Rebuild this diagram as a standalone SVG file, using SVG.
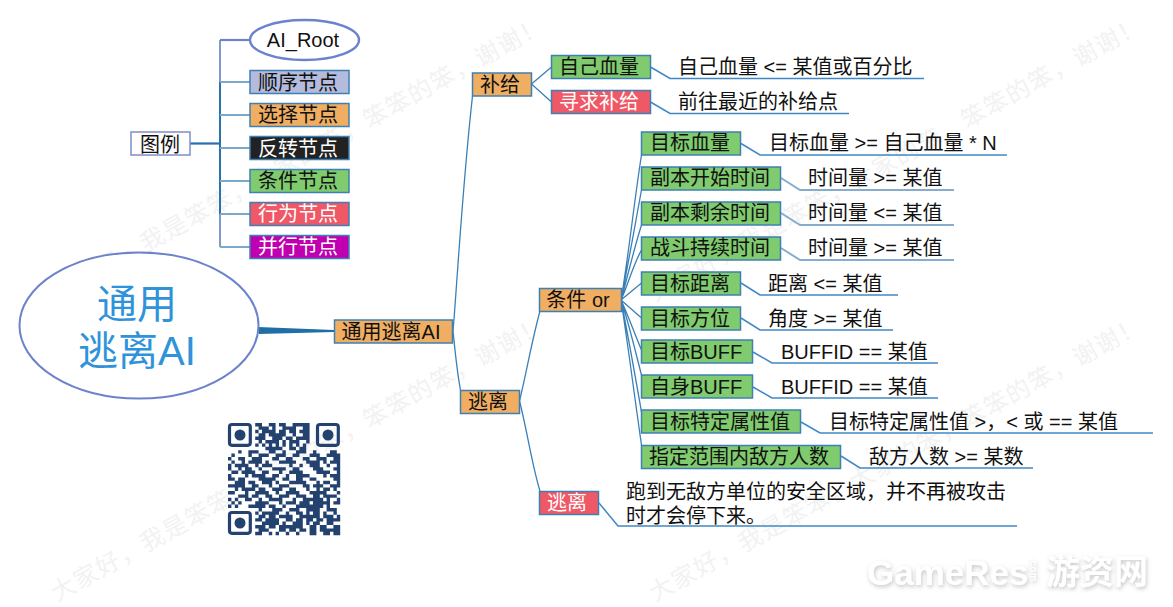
<svg xmlns="http://www.w3.org/2000/svg" width="1173" height="607" viewBox="0 0 1173 607">
<style>
text{font-family:"Liberation Sans","Noto Sans CJK SC",sans-serif;font-size:20px;fill:#111}
.c{text-anchor:middle}
.w{fill:#fff}
.wm{font-family:"Noto Sans CJK SC",sans-serif;font-size:24px;letter-spacing:1.5px;fill:#f2f2f2}
rect.n{stroke:#3f80b4;stroke-width:1.5}
.o{fill:#f0ae62}.g{fill:#7fcb6e}.r{fill:#ef5866}
.l{fill:none;stroke:#3a80b8;stroke-width:1.3}
.u{fill:none;stroke:#3f88c5;stroke-width:1.5}
.uf{fill:none;stroke:#86adcd;stroke-width:2}
.s{fill:none;stroke:#7aaacb;stroke-width:2}
.e{fill:#fff;stroke:#6d82cc;stroke-width:2.4}
</style>
<defs>
<filter id="sh" x="-5%" y="-20%" width="110%" height="150%"><feDropShadow dx="1" dy="2" stdDeviation="2" flood-color="#999" flood-opacity=".55"/></filter>
</defs>
<rect width="1173" height="607" fill="#fff"/>
<g id="watermark">
<text class="wm" transform="translate(53 295) rotate(-29)" y="8">大家好，我是笨笨，大家的笨，笨笨的笨，谢谢！</text>
<text class="wm" transform="translate(651 295) rotate(-29)" y="8">大家好，我是笨笨，大家的笨，笨笨的笨，谢谢！</text>
<text class="wm" transform="translate(53 595) rotate(-29)" y="8">大家好，我是笨笨，大家的笨，笨笨的笨，谢谢！</text>
<text class="wm" transform="translate(651 595) rotate(-29)" y="8">大家好，我是笨笨，大家的笨，笨笨的笨，谢谢！</text>
<g filter="url(#sh)">
<text x="867" y="585" style="font-size:35px;font-weight:bold;fill:#fff">GameRes</text>
<text transform="translate(1030 558) rotate(90)" style="font-size:10px;font-weight:bold;fill:#fff">.com</text>
<text x="1046" y="584" style="font-family:'Noto Sans CJK SC',sans-serif;font-size:34px;font-weight:bold;fill:#fff">游资网</text>
</g>
</g>
<g id="connectors">
<path d="M220 40V247" fill="none" stroke="#7d9ccd" stroke-width="2"/>
<path d="M220 82V214" fill="none" stroke="#2a72ab" stroke-width="2"/>
<path d="M220 40H250" fill="none" stroke="#6d82cc" stroke-width="2.2"/>
<path class="s" d="M220 82H250M220 115H250M220 148H250M220 181H250M220 214H250M220 247H250"/>
<path d="M190 143.5H220" fill="none" stroke="#2a6fb0" stroke-width="2.2"/>
<path d="M258 327L259 334L334 332V330Z" fill="#1f6ea6"/>
<path class="l" d="M453 331C456 300 462 190 472.5 96M453 331C455 350 457 372 460.5 390"/>
<path class="l" d="M531.5 84L551.5 67M531.5 84L551.5 102"/>
<path class="l" d="M519.5 401C527 370 532 340 540 311M519.5 401C527 430 532 465 540 491"/>
<path class="l" d="M621 300C628 260 635 195 641.5 155M621 300C628 265 635 225 641.5 190M621 300C628 275 635 245 641.5 225M621 300C628 285 633 265 641.5 250M621 300L641.5 283M621 300L641.5 318M621 300C628 315 635 335 641.5 350M621 300C628 320 635 350 641.5 375M621 300C628 335 635 375 641.5 412M621 300C628 345 635 400 641.5 445"/>
<path class="u" d="M650.5 67L670 78.5H924M650.5 102L670 113.5H849M741 143.5L760 155H1007"/>
<path class="uf" d="M781 178L800 190H954M781 213L800 225H954M781 248L800 260H954"/>
<path class="u" d="M741 283L760 295H898M741 318L760 330H893M753 352L772 363H938M753 387L772 398H938M801 422L820 433H1153M841 456L860 468H1033M599 503L618 526H1017"/>
</g>
<g id="legend-title"><rect x="131" y="132" width="59" height="23" fill="#fff" stroke="#7f8fc8" stroke-width="1.5"/><text class="c" x="160" y="152">图例</text></g>
<g id="legend-root"><ellipse class="e" cx="304.500" cy="40" rx="54.500" ry="20"/><text class="c" x="303" y="47">AI_Root</text></g>
<g id="legend-seq"><rect class="n" x="250" y="70.500" width="99" height="23" fill="#b4bbdc"/><text class="c" x="298" y="90">顺序节点</text></g>
<g id="legend-sel"><rect class="n o" x="250" y="103.500" width="99" height="23"/><text class="c" x="298" y="122">选择节点</text></g>
<g id="legend-inv"><rect class="n" x="250" y="136.500" width="99" height="23" fill="#222"/><text class="c w" x="298" y="156">反转节点</text></g>
<g id="legend-cond"><rect class="n g" x="250" y="169.500" width="99" height="23"/><text class="c" x="298" y="188">条件节点</text></g>
<g id="legend-act"><rect class="n r" x="250" y="202.500" width="99" height="23"/><text class="c w" x="298" y="221">行为节点</text></g>
<g id="legend-par"><rect class="n" x="250" y="235.500" width="99" height="23" fill="#c000b0"/><text class="c w" x="298" y="254">并行节点</text></g>
<g id="root"><ellipse cx="139" cy="325.500" rx="119.500" ry="73" fill="#fff" stroke="#6d82cc" stroke-width="2"/><text class="c" x="137" y="318" style="font-size:40px;fill:#2f93d9">通用</text><text class="c" x="137" y="365" style="font-size:40px;fill:#2f93d9">逃离AI</text></g>
<g id="main"><rect class="n o" x="334.500" y="320" width="118" height="23"/><text class="c" x="391" y="339">通用逃离AI</text></g>
<g id="supply"><rect class="n o" x="472.500" y="73" width="59" height="23"/><text class="c" x="500" y="92">补给</text></g>
<g id="flee"><rect class="n o" x="460.500" y="390.500" width="59" height="23"/><text class="c" x="488" y="409">逃离</text></g>
<g id="self-hp"><rect class="n g" x="551.500" y="55.500" width="99" height="23"/><text class="c" x="599" y="74">自己血量</text><text x="678" y="74">自己血量 &lt;= 某值或百分比</text></g>
<g id="seek"><rect class="n r" x="551.500" y="90.500" width="99" height="23"/><text class="c w" x="599" y="109">寻求补给</text><text x="678" y="109">前往最近的补给点</text></g>
<g id="cond-or"><rect class="n o" x="539.500" y="288.500" width="82" height="23"/><text class="c" x="578" y="307">条件 or</text></g>
<g id="flee-act"><rect class="n r" x="539.500" y="491.500" width="59" height="23"/><text class="c w" x="567" y="510">逃离</text><text x="626" y="499">跑到无敌方单位的安全区域，并不再被攻击</text><text x="626" y="523">时才会停下来。</text></g>
<g id="c1"><rect class="n g" x="641.500" y="132" width="99" height="23"/><text class="c" x="690" y="150">目标血量</text><text x="769" y="150">目标血量 &gt;= 自己血量 * N</text></g>
<g id="c2"><rect class="n g" x="641.500" y="167" width="139" height="23"/><text class="c" x="710" y="185">副本开始时间</text><text x="808" y="185">时间量 &gt;= 某值</text></g>
<g id="c3"><rect class="n g" x="641.500" y="202" width="139" height="23"/><text class="c" x="710" y="220">副本剩余时间</text><text x="808" y="220">时间量 &lt;= 某值</text></g>
<g id="c4"><rect class="n g" x="641.500" y="237" width="139" height="23"/><text class="c" x="710" y="255">战斗持续时间</text><text x="808" y="255">时间量 &gt;= 某值</text></g>
<g id="c5"><rect class="n g" x="641.500" y="272" width="99" height="23"/><text class="c" x="690" y="291">目标距离</text><text x="768" y="291">距离 &lt;= 某值</text></g>
<g id="c6"><rect class="n g" x="641.500" y="307" width="99" height="23"/><text class="c" x="690" y="326">目标方位</text><text x="768" y="326">角度 &gt;= 某值</text></g>
<g id="c7"><rect class="n g" x="641.500" y="340" width="111" height="23"/><text class="c" x="696" y="359">目标BUFF</text><text x="781" y="359">BUFFID == 某值</text></g>
<g id="c8"><rect class="n g" x="641.500" y="375" width="111" height="23"/><text class="c" x="696" y="394">自身BUFF</text><text x="781" y="394">BUFFID == 某值</text></g>
<g id="c9"><rect class="n g" x="641.500" y="410" width="159" height="23"/><text class="c" x="720" y="429">目标特定属性值</text><text x="829" y="429">目标特定属性值 &gt;，&lt; 或 == 某值</text></g>
<g id="c10"><rect class="n g" x="641.500" y="445.500" width="199" height="23"/><text class="c" x="739" y="464">指定范围内敌方人数</text><text x="869" y="464">敌方人数 &gt;= 某数</text></g>
<g id="qr" fill="none" stroke="#24426f">
<rect x="229.500" y="424.500" width="20.800" height="20.800" rx="2.500" stroke-width="3.200"/>
<rect x="317.500" y="424.500" width="20.800" height="20.800" rx="2.500" stroke-width="3.200"/>
<rect x="229.500" y="512.500" width="20.800" height="20.800" rx="2.500" stroke-width="3.200"/>
<circle cx="240" cy="435" r="5.500" fill="#24426f" stroke="none"/>
<circle cx="328" cy="435" r="5.500" fill="#24426f" stroke="none"/>
<circle cx="240" cy="523" r="5.500" fill="#24426f" stroke="none"/>
<path transform="translate(228 423) scale(3.4)" stroke-width="1" d="M8 .5h2M12 .5h2M15 .5h2M19 .5h5M9 1.500h3M13 1.500h1M16 1.500h4M22 1.500h2M8 2.500h1M10 2.500h4M15 2.500h2M18 2.500h2M21 2.500h3M9 3.500h2M12 3.500h5M19 3.500h1M22 3.500h2M8 4.500h3M13 4.500h3M17 4.500h2M20 4.500h4M9 5.500h1M11 5.500h4M16 5.500h1M18 5.500h3M23 5.500h1M8 6.500h1M10 6.500h1M12 6.500h1M14 6.500h1M16 6.500h1M18 6.500h1M20 6.500h1M22 6.500h1M11 7.500h5M18 7.500h2M21 7.500h2M3 8.500h1M6 8.500h3M12 8.500h2M16 8.500h1M20 8.500h3M25 8.500h1M30 8.500h2M1 9.500h1M6 9.500h1M9 9.500h3M14 9.500h3M19 9.500h2M24 9.500h3M29 9.500h4M0 10.500h1M3 10.500h2M7 10.500h3M13 10.500h2M17 10.500h2M22 10.500h2M26 10.500h3M31 10.500h2M1 11.500h1M4 11.500h1M6 11.500h4M11 11.500h1M15 11.500h5M23 11.500h4M28 11.500h1M30 11.500h3M0 12.500h1M2 12.500h4M8 12.500h1M10 12.500h3M18 12.500h1M21 12.500h1M24 12.500h3M29 12.500h1M32 12.500h1M0 13.500h1M3 13.500h1M5 13.500h2M9 13.500h1M13 13.500h4M19 13.500h2M25 13.500h3M31 13.500h2M1 14.500h2M4 14.500h4M10 14.500h2M15 14.500h1M18 14.500h4M26 14.500h3M29 14.500h1M32 14.500h1M0 15.500h1M5 15.500h1M7 15.500h4M13 15.500h2M17 15.500h1M20 15.500h4M28 15.500h1M30 15.500h3M0 16.500h2M3 16.500h2M9 16.500h5M16 16.500h2M20 16.500h2M24 16.500h2M31 16.500h2M2 17.500h3M6 17.500h2M10 17.500h3M14 17.500h1M18 17.500h5M26 17.500h1M28 17.500h2M32 17.500h1M0 18.500h5M7 18.500h2M12 18.500h1M15 18.500h3M22 18.500h2M25 18.500h3M30 18.500h3M2 19.500h1M4 19.500h4M9 19.500h2M13 19.500h3M18 19.500h2M23 19.500h1M26 19.500h1M28 19.500h2M31 19.500h1M0 20.500h2M5 20.500h1M8 20.500h4M14 20.500h1M17 20.500h4M24 20.500h5M32 20.500h1M3 21.500h3M7 21.500h2M11 21.500h2M15 21.500h3M20 21.500h3M25 21.500h2M28 21.500h4M0 22.500h1M2 22.500h1M5 22.500h2M9 22.500h1M12 22.500h4M19 22.500h1M22 22.500h6M29 22.500h1M32 22.500h1M1 23.500h1M3 23.500h1M8 23.500h4M15 23.500h1M17 23.500h3M21 23.500h3M25 23.500h5M31 23.500h2M0 24.500h1M2 24.500h1M6 24.500h5M12 24.500h2M16 24.500h1M20 24.500h8M29 24.500h1M9 25.500h1M13 25.500h3M18 25.500h3M23 25.500h4M29 25.500h3M8 26.500h1M10 26.500h5M17 26.500h1M20 26.500h2M23 26.500h1M25 26.500h2M28 26.500h1M31 26.500h1M9 27.500h2M12 27.500h2M15 27.500h4M21 27.500h6M28 27.500h3M32 27.500h1M8 28.500h2M11 28.500h4M17 28.500h2M20 28.500h2M23 28.500h2M26 28.500h2M29 28.500h4M10 29.500h5M16 29.500h1M19 29.500h3M23 29.500h1M25 29.500h2M29 29.500h2M8 30.500h3M12 30.500h2M15 30.500h7M24 30.500h2M27 30.500h2M31 30.500h2M9 31.500h3M15 31.500h2M18 31.500h2M21 31.500h2M24 31.500h2M27 31.500h6M8 32.500h2M12 32.500h1M14 32.500h1M17 32.500h1M20 32.500h1M24 32.500h2M28 32.500h2M31 32.500h2"/>
</g>
</svg>
